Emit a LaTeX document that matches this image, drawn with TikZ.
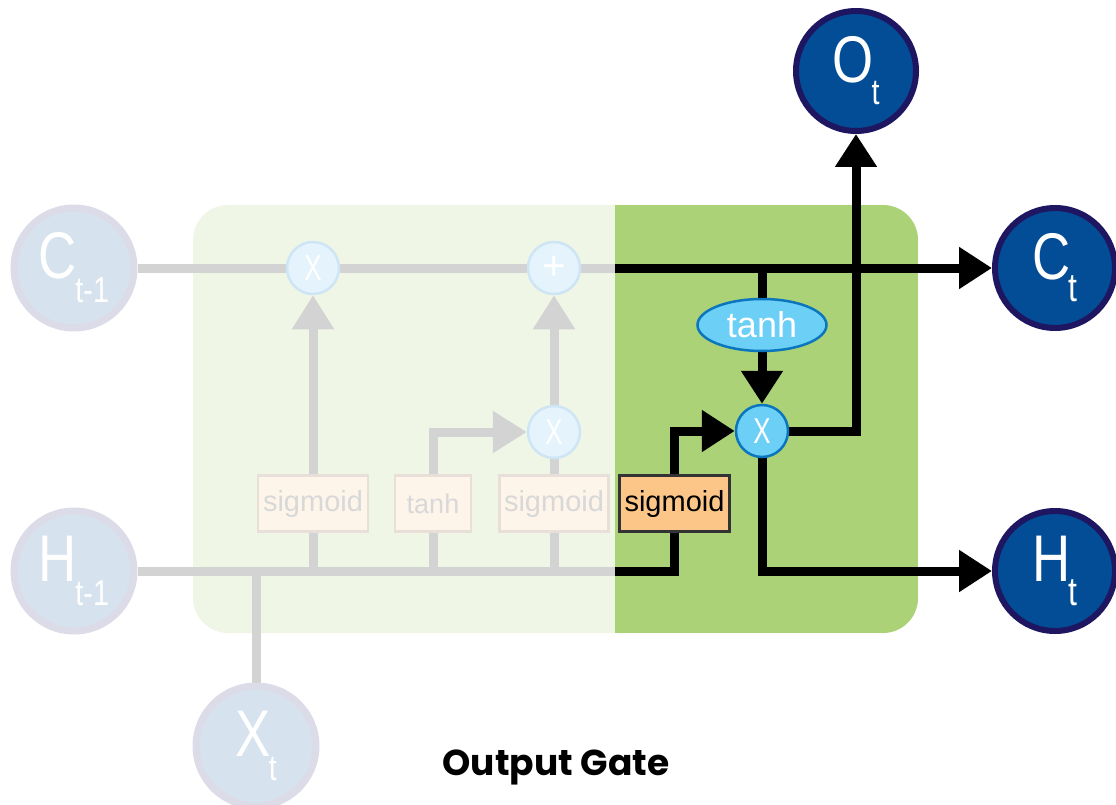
\documentclass[tikz,border=0pt]{standalone}
\usepackage{graphicx}
\usepackage{fontspec}
\setmainfont{Liberation Sans}
\newfontfamily\titlefont{Poppins}
\usetikzlibrary{arrows.meta,shapes.geometric}
\pgfdeclarelayer{back}
\pgfdeclarelayer{wires}
\pgfsetlayers{back,wires,main}

\definecolor{cellpale}{RGB}{240,246,230}
\definecolor{cellgreen}{RGB}{171,210,118}
\definecolor{wiregrey}{RGB}{211,211,211}
\definecolor{statepale}{RGB}{214,226,238}
\definecolor{statepaleedge}{RGB}{220,220,232}
\definecolor{statefill}{RGB}{3,76,150}
\definecolor{stateedge}{RGB}{30,22,96}
\definecolor{oppale}{RGB}{229,244,252}
\definecolor{oppaleedge}{RGB}{205,229,244}
\definecolor{opfill}{RGB}{108,207,246}
\definecolor{opedge}{RGB}{11,118,189}
\definecolor{boxpale}{RGB}{254,245,234}
\definecolor{boxpaleedge}{RGB}{232,224,216}
\definecolor{textpale}{RGB}{216,216,216}
\definecolor{boxorange}{RGB}{253,198,137}
\definecolor{boxedge}{RGB}{51,51,51}

% state label: big letter with lowered subscript
\newcommand{\statelbl}[4]{\scalebox{0.8}[1]{\fontsize{66}{66}\selectfont #1\kern-2pt\raisebox{-#4}{\fontsize{#3}{#3}\selectfont #2}}}
% multiplication sign used in the point-wise operations
\newcommand{\mulsign}{\scalebox{0.72}[1]{\fontsize{36}{36}\selectfont X}}

\tikzset{
  statecirc/.style={circle, minimum size=120pt, inner sep=0pt, text=white},
  pastate/.style={statecirc, fill=statepale, draw=statepaleedge, line width=7pt},
  newstate/.style={statecirc, fill=statefill, draw=stateedge, line width=6pt},
  opcirc/.style={circle, minimum size=52pt, inner sep=0pt, text=white, line width=2.5pt},
  paleop/.style={opcirc, fill=oppale, draw=oppaleedge},
  liveop/.style={opcirc, fill=opfill, draw=opedge},
  actbox/.style={rectangle, minimum height=56pt, inner sep=0pt, line width=2.5pt,
    font=\fontsize{29}{29}\selectfont},
  palebox/.style={actbox, fill=boxpale, draw=boxpaleedge, text=textpale},
  livebox/.style={actbox, fill=boxorange, draw=boxedge, text=black},
  greywire/.style={draw=wiregrey, line width=9pt},
  blackwire/.style={draw=black, line width=9pt},
  greyarrow/.style={greywire, -{Triangle[length=34pt,width=40pt]}},
  blackarrow/.style={blackwire, -{Triangle[length=33pt,width=40pt]}},
}

\begin{document}
\begin{tikzpicture}[x=1pt,y=-1pt]
\useasboundingbox (0,0) rectangle (1116,805);

% cell background: pale part and the highlighted output-gate part
\begin{pgfonlayer}{back}
  \fill[cellpale, rounded corners=35pt] (193,205) rectangle (918,633);
  \begin{scope}
    \clip[rounded corners=35pt] (193,205) rectangle (918,633);
    \fill[cellgreen] (615,205) rectangle (918,633);
  \end{scope}
\end{pgfonlayer}

% states
\node[pastate] (cprev) at (74,268) {\statelbl{C}{t-1}{36pt}{24pt}};
\node[pastate] (hprev) at (74,571) {\statelbl{H}{t-1}{36pt}{24pt}};
\node[pastate] (xt) at (256,746) {\statelbl{X}{t}{36pt}{24pt}};
\node[newstate] (ot) at (856,71) {\statelbl{O}{t}{36pt}{22pt}};
\node[newstate] (ct) at (1055,268) {\statelbl{C}{t}{40pt}{22pt}};
\node[newstate] (ht) at (1055,571) {\statelbl{H}{t}{40pt}{24pt}};

% point-wise operations
\node[paleop] (mulf) at (313,268) {\mulsign};
\node[paleop] (add) at (554,268) {\fontsize{40}{40}\selectfont +};
\node[paleop] (muli) at (554,432) {\mulsign};
\node[liveop] (mulo) at (762,431) {\mulsign};
\node[ellipse, fill=opfill, draw=opedge, line width=2.5pt, minimum width=129pt,
      minimum height=52pt, inner sep=0pt, text=white,
      font=\fontsize{36}{36}\selectfont] (tanhc) at (762,325) {tanh};

% gate layers
\node[palebox, minimum width=110pt] (sigf) at (313,503.5) {sigmoid};
\node[palebox, minimum width=76pt, font=\fontsize{27}{27}\selectfont] (tanhi) at (433,503.5) {tanh};
\node[palebox, minimum width=109pt] (sigi) at (554,503.5) {sigmoid};
\node[livebox, minimum width=110pt] (sigo) at (674.5,503.5) {sigmoid};

% junctions where the highlighted path begins
\coordinate (cfork) at (615,268);
\coordinate (hfork) at (615,571);

\begin{pgfonlayer}{wires}
  % inactive part of the cell
  \path[greywire] (cprev.east) -- (mulf.west) (mulf.east) -- (add.west) (add.east) -- (cfork);
  \path[greywire] (hprev.east) -- (hfork);
  \path[greywire] (xt.north) -- (xt.north |- hfork);
  \path[greywire] (sigf.south) -- (sigf.south |- hfork);
  \path[greywire] (tanhi.south) -- (tanhi.south |- hfork);
  \path[greywire] (sigi.south) -- (sigi.south |- hfork);
  \path[greyarrow] (sigf.north) -- (mulf.south);
  \path[greyarrow] (tanhi.north) |- (muli.west);
  \path[greywire] (sigi.north) -- (muli.south);
  \path[greyarrow] (muli.north) -- (add.south);

  % output gate
  \path[blackarrow] (cfork) -- (ct.west);
  \path[blackwire] (tanhc.north |- cfork) -- (tanhc.north);
  \path[blackarrow] (tanhc.south) -- (mulo.north);
  \path[blackwire] (hfork) -| (sigo.south);
  \path[blackarrow] (sigo.north) |- (mulo.west);
  \path[blackarrow] (mulo.east) -| (ot.south);
  \path[blackarrow] (mulo.south) |- (ht.west);
\end{pgfonlayer}

% caption
\node[font=\titlefont\bfseries\fontsize{36}{36}\selectfont] (title) at (556,767) {Output Gate};
\end{tikzpicture}
\end{document}
